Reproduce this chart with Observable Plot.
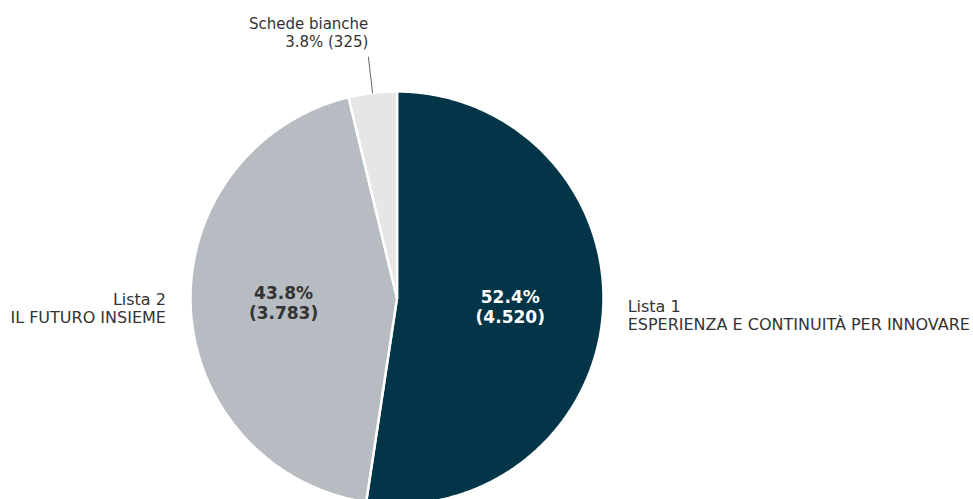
<!DOCTYPE html>
<html><head><meta charset="utf-8">
<script src="https://cdn.jsdelivr.net/npm/d3@7"></script>
<script src="https://cdn.jsdelivr.net/npm/@observablehq/plot@0.6"></script>
<style>
html,body{margin:0;padding:0;background:#fff;}
</style></head>
<body><div id="chart"></div>
<script>
const names = ["Lista 1", "Lista 2", "Schede bianche"];
const subtitles = ["ESPERIENZA E CONTINUITÀ PER INNOVARE", "IL FUTURO INSIEME", ""];
const votes = [4520, 3783, 325];
const voteLabels = ["4.520", "3.783", "325"];
const colors = ["#023547", "#b6bcc1", "#e6e6e6"];

const W = 973, H = 499;
const cx = 396.5, cy = 297.5, R = 206.5;
const total = d3.sum(votes);
const arcs = d3.pie().sort(null).value(d => d)(votes);

const poly = [];
arcs.forEach((a, i) => {
  poly.push({name: names[i], x: 0, y: 0});
  const n = Math.max(2, Math.ceil((a.endAngle - a.startAngle) / 0.01));
  for (let k = 0; k <= n; k++) {
    const t = a.startAngle + (a.endAngle - a.startAngle) * k / n;
    poly.push({name: names[i], x: Math.sin(t), y: Math.cos(t)});
  }
  poly.push({name: names[i], x: 0, y: 0});
});

const pct = v => (v / total * 100).toFixed(1) + "%";
const mid = a => (a.startAngle + a.endAngle) / 2;

const inner = arcs.slice(0, 2).map((a, i) => ({
  x: 0.55 * Math.sin(mid(a)), y: 0.55 * Math.cos(mid(a)),
  text: pct(votes[i]) + "\n(" + voteLabels[i] + ")",
  color: i === 0 ? "#ffffff" : "#333333"
}));
const outer = arcs.slice(0, 2).map((a, i) => ({
  x: 1.12 * Math.sin(mid(a)), y: 1.12 * Math.cos(mid(a)),
  text: names[i] + "\n" + subtitles[i],
  right: Math.sin(mid(a)) >= 0
}));
const sa = arcs[2];
const leader = [
  {x: 1.0 * Math.sin(mid(sa)), y: 1.0 * Math.cos(mid(sa))},
  {x: 1.175 * Math.sin(mid(sa)), y: 1.175 * Math.cos(mid(sa))}
];
const schede = [{
  x: leader[1].x, y: leader[1].y,
  text: names[2] + "\n" + pct(votes[2]) + " (" + voteLabels[2] + ")"
}];

const chart = Plot.plot({
  width: W, height: H,
  margin: 0,
  style: {fontFamily: "DejaVu Sans, sans-serif", background: "#fff"},
  x: {domain: [-cx / R, (W - cx) / R], axis: null},
  y: {domain: [-(H - cy) / R, cy / R], axis: null},
  color: {domain: names, range: colors},
  marks: [
    Plot.line(poly, {x: "x", y: "y", z: "name", fill: "name", stroke: "#ffffff", strokeWidth: 2.5, strokeLinejoin: "round"}),
    Plot.line(leader, {x: "x", y: "y", stroke: "#666666", strokeWidth: 1}),
    Plot.text(inner, {x: "x", y: "y", text: "text", fill: d => d.color, fontSize: 17, fontWeight: "bold", lineHeight: 1.18, lineAnchor: "middle"}),
    Plot.text(outer.filter(d => d.right), {x: "x", y: "y", text: "text", textAnchor: "start", fill: "#333333", fontSize: 16, lineHeight: 1.125, lineAnchor: "middle"}),
    Plot.text(outer.filter(d => !d.right), {x: "x", y: "y", text: "text", textAnchor: "end", fill: "#333333", fontSize: 16, lineHeight: 1.125, lineAnchor: "middle"}),
    Plot.text(schede, {x: "x", y: "y", text: "text", textAnchor: "end", fill: "#333333", fontSize: 15, lineHeight: 1.2, lineAnchor: "bottom", dy: -10})
  ]
});
document.getElementById("chart").appendChild(chart);
</script>
</body></html>
